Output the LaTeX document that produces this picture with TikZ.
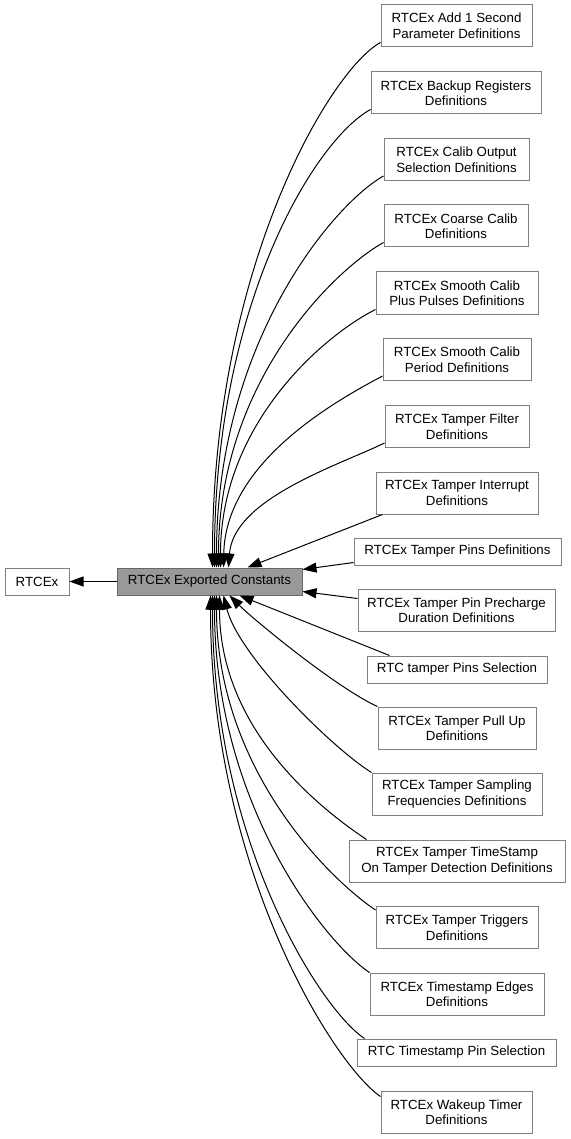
\documentclass[tikz,border=0pt]{standalone}
\usepackage{fontspec}
\setmainfont{Liberation Sans}
\usetikzlibrary{arrows.meta,calc}
\definecolor{bordergray}{HTML}{808080}
\definecolor{maingray}{HTML}{999999}
\definecolor{mainborder}{HTML}{666666}
\begin{document}
\begin{tikzpicture}[x=1pt,y=-1pt,
  box/.style={draw=bordergray, fill=white, line width=1pt, inner sep=0pt, align=center,
    font=\fontsize{13.3}{15.5}\selectfont, minimum height=42pt},
  onebox/.style={box, minimum height=27pt},
  link/.style={draw=black, line width=1pt, -{Triangle[length=14pt,width=10pt]}}]
\useasboundingbox (0,0) rectangle (570,1139);

\node[onebox, minimum width=64pt] (r) at (37,581.5) {RTCEx};
\node[onebox, fill=maingray, draw=mainborder, minimum width=185pt] (m) at (209.5,581.5) {RTCEx Exported Constants};

\node[box, minimum width=151pt] (b1) at (456.5,26) {RTCEx Add 1 Second\\ Parameter Definitions};
\node[box, minimum width=170pt] (b2) at (456,93) {RTCEx Backup Registers\\Definitions};
\node[box, minimum width=145pt] (b3) at (456.5,159.5) {RTCEx Calib Output\\ Selection Definitions};
\node[box, minimum width=144pt] (b4) at (456,226) {RTCEx Coarse Calib\\Definitions};
\node[box, minimum width=162pt] (b5) at (457,293) {RTCEx Smooth Calib\\ Plus Pulses Definitions};
\node[box, minimum width=148pt] (b6) at (457,359.5) {RTCEx Smooth Calib\\Period Definitions};
\node[box, minimum width=144pt] (b7) at (457,426.5) {RTCEx Tamper Filter\\Definitions};
\node[box, minimum width=162pt] (b8) at (457,493) {RTCEx Tamper Interrupt\\Definitions};
\node[onebox, minimum width=207pt] (b9) at (457.5,551.5) {RTCEx Tamper Pins Definitions};
\node[box, minimum width=197pt] (b10) at (456.5,610) {RTCEx Tamper Pin Precharge\\Duration Definitions};
\node[onebox, minimum width=180pt] (b11) at (457,669.5) {RTC tamper Pins Selection};
\node[box, minimum width=158pt] (b12) at (457,728) {RTCEx Tamper Pull Up\\Definitions};
\node[box, minimum width=170pt] (b13) at (457,794) {RTCEx Tamper Sampling\\ Frequencies Definitions};
\node[box, minimum width=216pt] (b14) at (457,861) {RTCEx Tamper TimeStamp\\ On Tamper Detection Definitions};
\node[box, minimum width=162pt] (b15) at (457,927.5) {RTCEx Tamper Triggers\\Definitions};
\node[box, minimum width=174pt] (b16) at (457,994) {RTCEx Timestamp Edges\\Definitions};
\node[onebox, minimum width=199pt] (b17) at (456.5,1052.5) {RTC Timestamp Pin Selection};
\node[box, minimum width=151pt] (b18) at (456.5,1112) {RTCEx Wakeup Timer\\Definitions};

\draw[link] (m.west) -- (r.east);

\draw[link] ([yshift=5pt]b1.south west) .. controls +(-50,27) and +(0,-300) .. ([xshift=96pt]m.north west);
\draw[link] ([yshift=5pt]b2.south west) .. controls +(-55,30) and +(0,-265) .. ([xshift=98pt]m.north west);
\draw[link] ([yshift=5pt]b3.south west) .. controls +(-50,28) and +(0,-225) .. ([xshift=100pt]m.north west);
\draw[link] ([yshift=5pt]b4.south west) .. controls +(-50,28) and +(0,-185) .. ([xshift=102pt]m.north west);
\draw[link] ([yshift=5pt]b5.south west) .. controls +(-50,25) and +(0,-145) .. ([xshift=104pt]m.north west);
\draw[link] ([yshift=5pt]b6.south west) .. controls +(-45,24) and +(2,-106) .. ([xshift=107pt]m.north west);
\draw[link] ([yshift=5pt]b7.south west) .. controls +(-45,22) and +(5,-69) .. ([xshift=112pt]m.north west);
\draw[link] ([xshift=7pt]b8.south west) -- ([xshift=131pt]m.north west);
\draw[link] ([yshift=3pt]b9.south west) -- ([yshift=12pt]m.east);
\draw[link] ([yshift=-10pt]b10.north west) -- ([yshift=-10pt]m.east);
\draw[link] ([xshift=23pt]b11.north west) -- ([xshift=123pt]m.south west);
\draw[link] (b12.north west) .. controls +(-40,-18) and +(25,25) .. ([xshift=113pt]m.south west);
\draw[link] (b13.north west) .. controls +(-40,-25) and +(15,60) .. ([xshift=107pt]m.south west);
\draw[link] ([xshift=18pt]b14.north west) .. controls +(-45,-30) and +(0,135) .. ([xshift=103pt]m.south west);
\draw[link] ([yshift=-4pt]b15.north west) .. controls +(-45,-30) and +(0,174) .. ([xshift=100pt]m.south west);
\draw[link] (b16.north west) .. controls +(-45,-30) and +(0,208) .. ([xshift=98pt]m.south west);
\draw[link] ([xshift=8pt]b17.north west) .. controls +(-45,-30) and +(0,244) .. ([xshift=96pt]m.south west);
\draw[link] ([yshift=-6pt]b18.north west) .. controls +(-45,-30) and +(0,276) .. ([xshift=94pt]m.south west);
\end{tikzpicture}
\end{document}
